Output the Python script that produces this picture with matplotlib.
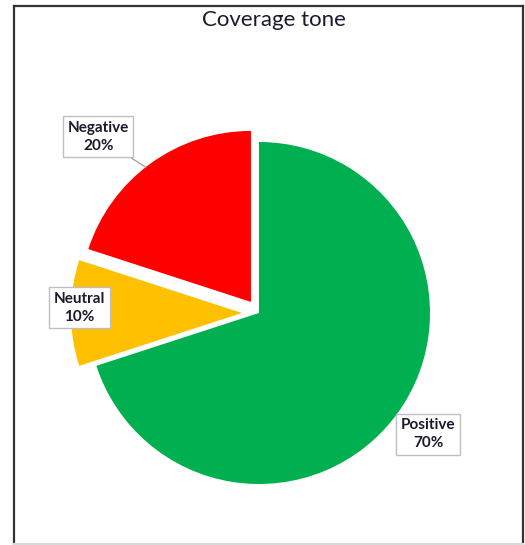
import numpy as np
import matplotlib.pyplot as plt
from matplotlib.lines import Line2D

# Coverage tone shares (percent)
tones = ["Positive", "Neutral", "Negative"]
shares = [70, 10, 20]
colors = ["#00B050", "#FFC000", "#FF0000"]
explode = [0, 0.1, 0.08]

W, H = 525, 545
cx, cy, R = 259, 313, 171  # pie centre and radius in pixels

fig = plt.figure(figsize=(W / 100, H / 100), dpi=100)
ax = fig.add_axes([0, 0, 1, 1])

wedges, _ = ax.pie(shares, colors=colors, startangle=90, counterclock=False,
                   explode=explode, radius=1,
                   wedgeprops=dict(linewidth=0))

# pie() resets the limits, so fix them afterwards
ax.set_xlim(-cx / R, (W - cx) / R)
ax.set_ylim(-(H - cy) / R, cy / R)
ax.set_aspect("equal")
ax.axis("off")

# label boxes: (x, y) of box centre in data units, one per slice
label_pos = {"Positive": (0.99, -0.71), "Neutral": (-1.05, 0.03), "Negative": (-0.94, 1.03)}
for w, name, val in zip(wedges, tones, shares):
    lx, ly = label_pos[name]
    txt = f"{name}\n{val}%"
    box = dict(boxstyle="square,pad=0.3", fc="white", ec="#bfbfbf", lw=1)
    kw = dict(ha="center", va="center", fontsize=11, fontweight="bold",
              family="Lato", color="#1a1a2a", linespacing=1.35, bbox=box)
    if name == "Negative":
        mid = np.deg2rad((w.theta1 + w.theta2) / 2 + 2)
        ox, oy = w.center
        ax.annotate(txt, xy=(ox + np.cos(mid), oy + np.sin(mid)), xytext=(lx, ly),
                    arrowprops=dict(arrowstyle="-", color="#a6a6a6", lw=1,
                                    shrinkA=0, shrinkB=0), **kw)
    else:
        ax.text(lx, ly, txt, **kw)

fig.text(274 / W, 1 - 20 / H, "Coverage tone", ha="center", va="center",
         fontsize=16, family="Lato", color="#1a1a2a")

# outer frame
def px(x, y):
    return x / W, 1 - y / H

for (x0, y0), (x1, y1), c in [((14, 6), (14, 545), "#333333"),
                              ((14, 6), (523, 6), "#333333"),
                              ((523, 6), (523, 545), "#333333"),
                              ((14, 544), (523, 544), "#d9d9d9")]:
    a, b = px(x0, y0), px(x1, y1)
    fig.add_artist(Line2D([a[0], b[0]], [a[1], b[1]], color=c, lw=1.6,
                          transform=fig.transFigure))

fig.savefig("out.png", dpi=100, facecolor="white")
